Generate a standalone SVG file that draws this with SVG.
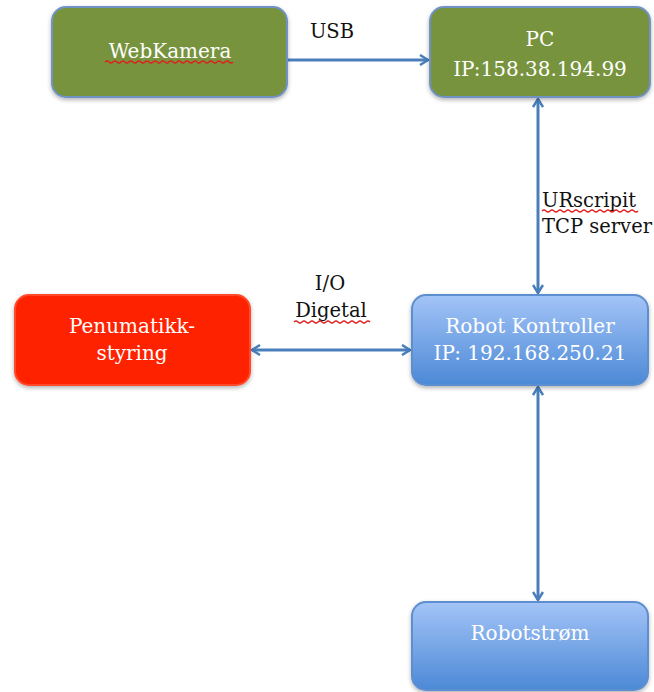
<svg xmlns="http://www.w3.org/2000/svg" width="654" height="692" viewBox="0 0 654 692">
<defs>
<linearGradient id="blue" x1="0" y1="0" x2="0" y2="1">
<stop offset="0" stop-color="#a3c4f7"/>
<stop offset="1" stop-color="#4c89d6"/>
</linearGradient>
<filter id="sh" x="-10%" y="-10%" width="120%" height="130%">
<feDropShadow dx="0" dy="2" stdDeviation="2" flood-color="#000" flood-opacity="0.3"/>
</filter>
<marker id="ah" viewBox="0 0 12 12" refX="10" refY="6" markerWidth="12" markerHeight="12" markerUnits="userSpaceOnUse" orient="auto-start-reverse">
<path d="M2,1 L10,6 L2,11" fill="none" stroke="#4a7ebb" stroke-width="2.5"/>
</marker>
</defs>
<style>
.box{stroke:#6f92c4;stroke-width:2;filter:url(#sh)}
.green{fill:#77933c}
.red{fill:#ff2200;stroke:#ff4a2a}
.blue{fill:url(#blue);stroke:#5d8fd0}
.nt{font-family:"DejaVu Serif","Liberation Serif",serif;font-size:20px;fill:#ffffff;text-anchor:middle}
.lb{font-family:"DejaVu Serif","Liberation Serif",serif;font-size:19.5px;fill:#111111}
.conn{stroke:#4a7ebb;stroke-width:3;fill:none}
.wavy{stroke:#e02020;stroke-width:1.2;fill:none}
</style>
<g id="connectors">
<line class="conn" x1="287" y1="60" x2="428" y2="60" marker-end="url(#ah)"/>
<line class="conn" x1="538" y1="99" x2="538" y2="293" marker-start="url(#ah)" marker-end="url(#ah)"/>
<line class="conn" x1="252" y1="350" x2="410" y2="350" marker-start="url(#ah)" marker-end="url(#ah)"/>
<line class="conn" x1="538" y1="387" x2="538" y2="600" marker-start="url(#ah)" marker-end="url(#ah)"/>
<text class="lb" x="332" y="38" text-anchor="middle">USB</text>
<text class="lb" x="542" y="207">URscripit</text>
<text class="lb" x="542" y="233">TCP server</text>
<text class="lb" x="330" y="290" text-anchor="middle">I/O</text>
<text class="lb" x="331" y="317" text-anchor="middle">Digetal</text>
<path class="wavy" d="M542,211 q2,-2 4,0 t4,0 t4,0 t4,0 t4,0 t4,0 t4,0 t4,0 t4,0 t4,0 t4,0 t4,0 t4,0 t4,0 t4,0 t4,0 t4,0 t4,0 t4,0 t4,0 t4,0 t4,0 t4,0 t4,0"/>
<path class="wavy" d="M294,322 q2,-2 4,0 t4,0 t4,0 t4,0 t4,0 t4,0 t4,0 t4,0 t4,0 t4,0 t4,0 t4,0 t4,0 t4,0 t4,0 t4,0 t4,0 t4,0 t4,0"/>
</g>
<g id="webkamera">
<rect class="box green" x="52" y="7" width="235" height="90" rx="14"/>
<text class="nt" x="170" y="58">WebKamera</text>
<path class="wavy" d="M105,62 q2,-2 4,0 t4,0 t4,0 t4,0 t4,0 t4,0 t4,0 t4,0 t4,0 t4,0 t4,0 t4,0 t4,0 t4,0 t4,0 t4,0 t4,0 t4,0 t4,0 t4,0 t4,0 t4,0 t4,0 t4,0 t4,0 t4,0 t4,0 t4,0 t4,0 t4,0 t4,0 t4,0"/>
</g>
<g id="pc">
<rect class="box green" x="430" y="7" width="220" height="90" rx="14"/>
<text class="nt" x="540" y="46">PC</text>
<text class="nt" x="540" y="76">IP:158.38.194.99</text>
</g>
<g id="penumatikk">
<rect class="box red" x="15" y="295" width="235" height="90" rx="14"/>
<text class="nt" x="132" y="333">Penumatikk-</text>
<text class="nt" x="132" y="360">styring</text>
</g>
<g id="robotkontroller">
<rect class="box blue" x="412" y="295" width="236" height="90" rx="14"/>
<text class="nt" x="530" y="333">Robot Kontroller</text>
<text class="nt" x="530" y="360">IP: 192.168.250.21</text>
</g>
<g id="robotstrom">
<rect class="box blue" x="412" y="602" width="236" height="88" rx="14"/>
<text class="nt" x="530" y="640">Robotstrøm</text>
</g>
</svg>
